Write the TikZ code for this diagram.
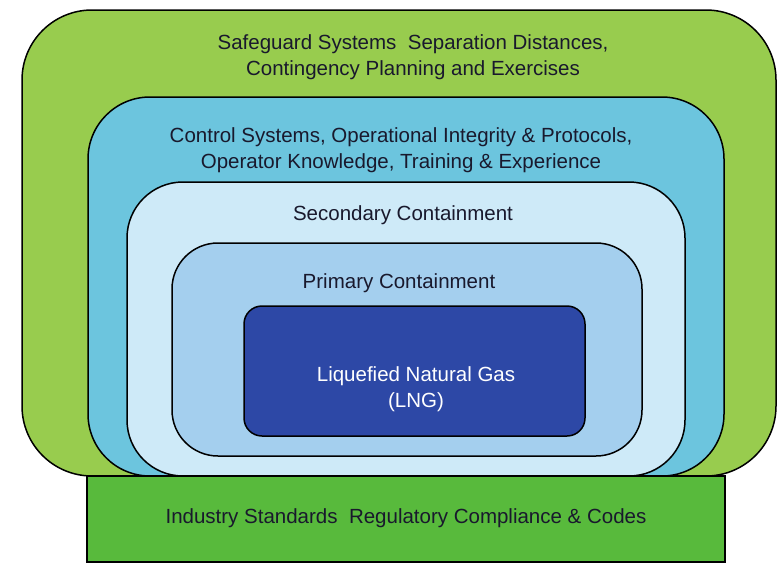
\documentclass[tikz,border=0pt]{standalone}
\usepackage{fontspec}
\setmainfont{Liberation Sans}
\definecolor{safegreen}{RGB}{152,204,78}
\definecolor{ctrlcyan}{RGB}{108,197,222}
\definecolor{seclight}{RGB}{206,234,248}
\definecolor{primblue}{RGB}{164,207,238}
\definecolor{lngblue}{RGB}{45,72,166}
\definecolor{bargreen}{RGB}{88,186,60}
\definecolor{txt}{RGB}{25,25,45}
\begin{document}
\begin{tikzpicture}[x=1pt,y=-1pt,
  layer/.style={draw=black, line width=1.5pt},
  lbl/.style={font=\fontsize{20.5}{26.5}\selectfont, text=txt, align=center, inner sep=0pt}]
\useasboundingbox (0,0) rectangle (779,568);
\fill[white] (0,0) rectangle (779,568);
% layers
\draw[layer, fill=safegreen, rounded corners=70pt] (22,10) rectangle (776,476);
\draw[layer, fill=ctrlcyan, rounded corners=62pt] (88,97) rectangle (724,476);
\draw[layer, fill=seclight, rounded corners=56pt] (127,182) rectangle (685,476);
\draw[layer, fill=primblue, rounded corners=46pt] (172,243) rectangle (642,456);
\draw[layer, fill=lngblue, rounded corners=18pt] (244,306) rectangle (585,436);
\draw[layer, fill=bargreen] (87,476) rectangle (725,562);
% labels
\node[lbl] (safe) at (413,57) {Safeguard Systems\ \ Separation Distances,\\Contingency Planning and Exercises};
\node[lbl] (ctrl) at (401,150) {Control Systems, Operational Integrity \& Protocols,\\Operator Knowledge, Training \& Experience};
\node[lbl] (sec) at (403,215) {Secondary Containment};
\node[lbl] (prim) at (399,283) {Primary Containment};
\node[lbl, text=white] (lng) at (416,389) {Liquefied Natural Gas\\(LNG)};
\node[lbl] (ind) at (406,518) {Industry Standards\ \ Regulatory Compliance \& Codes};
\end{tikzpicture}
\end{document}
